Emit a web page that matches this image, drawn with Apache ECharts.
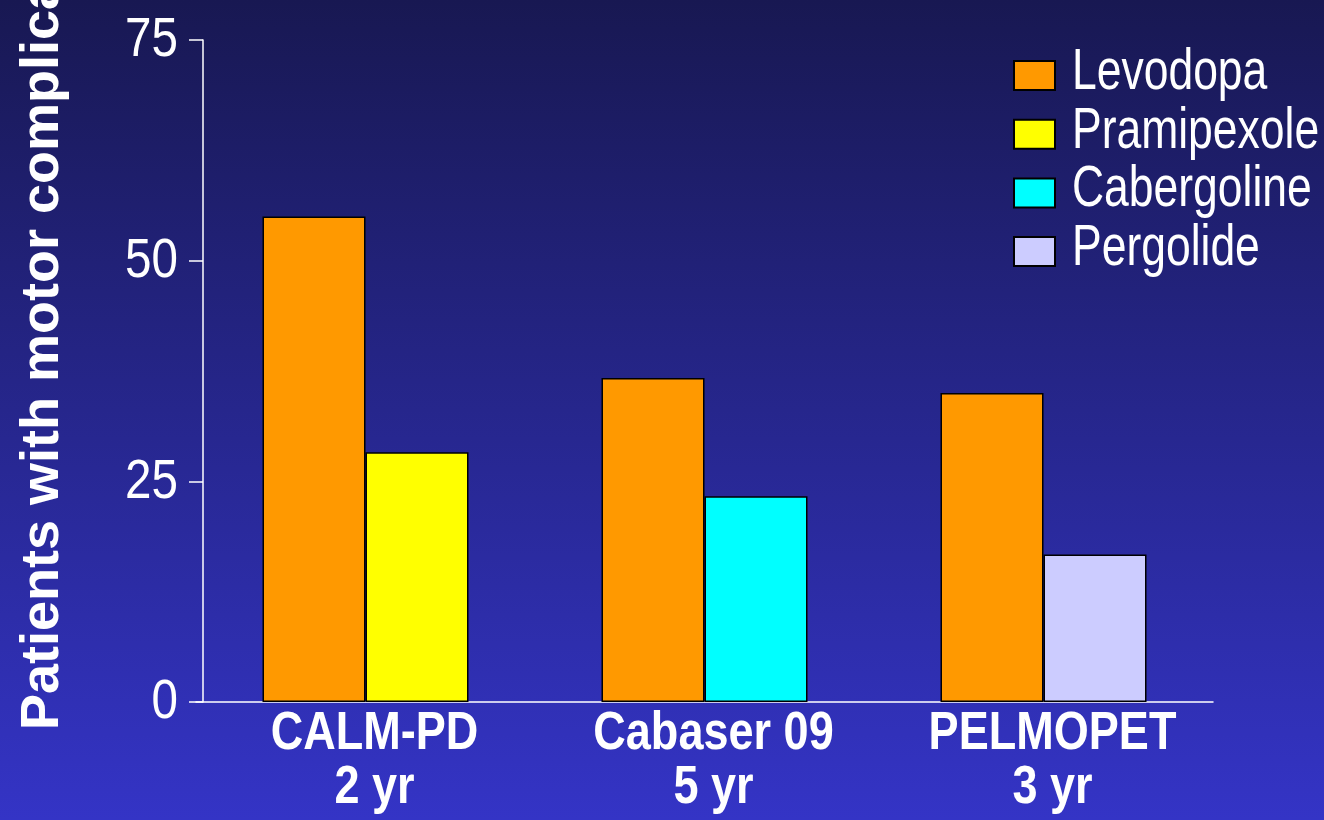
<!DOCTYPE html>
<html>
<head>
<meta charset="utf-8">
<title>Motor complications by study</title>
<script src="https://cdn.jsdelivr.net/npm/echarts@6/dist/echarts.min.js"></script>
<style>
  html, body { margin: 0; padding: 0; width: 1324px; height: 820px; overflow: hidden; }
  #chart { width: 1324px; height: 820px; }
</style>
</head>
<body>
<div id="chart"></div>
<script>
// Studies and follow-up durations (x categories)
const studies = ['CALM-PD', 'Cabaser 09', 'PELMOPET'];
const durations = ['2 yr', '5 yr', '3 yr'];

// Percent of patients with motor complications
const levodopa    = [55, 36.7, 35];
const pramipexole = [28.3, null, null];
const cabergoline = [null, 23.3, null];
const pergolide   = [null, null, 16.7];

// Treatment names, in legend order
const treatments = ['Levodopa', 'Pramipexole', 'Cabergoline', 'Pergolide'];

// Y axis ticks
const yTicks = [0, 25, 50, 75];

const font = "'Liberation Sans', Arial, sans-serif";

const categories = studies.map((s, i) => s + '\n' + durations[i]);

const chart = echarts.init(document.getElementById('chart'));

const border = { borderColor: '#000', borderWidth: 1.5 };
const barBase = { type: 'bar', barWidth: 103, barGap: '0%' };

// Legend layout
const legendLeft = 1013, legendTop = 61, legendRow = 58.6, swatchW = 41, swatchH = 29;

chart.setOption({
  backgroundColor: {
    type: 'linear', x: 0, y: 0, x2: 0, y2: 1,
    colorStops: [
      { offset: 0, color: '#181852' },
      { offset: 1, color: '#3434c6' }
    ]
  },
  animation: false,
  grid: { left: 196, right: 111, top: 40, bottom: 118 },
  legend: {
    orient: 'vertical',
    left: legendLeft,
    top: legendTop - 1,
    padding: 0,
    itemGap: 27.7,
    itemWidth: swatchW,
    itemHeight: swatchH,
    icon: 'rect',
    selectedMode: false,
    formatter: () => '',
    data: treatments
  },
  xAxis: {
    type: 'category',
    data: categories,
    axisLine: { lineStyle: { color: '#fff', width: 1.5 } },
    axisTick: { show: false },
    axisLabel: { show: false }
  },
  yAxis: {
    type: 'value',
    min: yTicks[0],
    max: yTicks[yTicks.length - 1],
    interval: yTicks[1] - yTicks[0],
    offset: -7,
    splitLine: { show: false },
    axisLine: { show: true, lineStyle: { color: '#fff', width: 1.5 } },
    axisTick: { show: true, length: 14, lineStyle: { color: '#fff', width: 1.5 } },
    axisLabel: { show: false }
  },
  series: [
    Object.assign({}, barBase, { name: treatments[0], data: levodopa, itemStyle: Object.assign({ color: '#ff9900' }, border) }),
    Object.assign({}, barBase, { name: treatments[1], stack: 'agonist', data: pramipexole, itemStyle: Object.assign({ color: '#ffff00' }, border) }),
    Object.assign({}, barBase, { name: treatments[2], stack: 'agonist', data: cabergoline, itemStyle: Object.assign({ color: '#00ffff' }, border) }),
    Object.assign({}, barBase, { name: treatments[3], stack: 'agonist', data: pergolide, itemStyle: Object.assign({ color: '#ccccff' }, border) })
  ]
});

// Narrow-set text: axis labels, legend names and the y-axis title
const texts = [];

// Category labels under each group, placed from the axis category position
categories.forEach((c, i) => {
  const x = chart.convertToPixel({ xAxisIndex: 0 }, i);
  const y0 = chart.convertToPixel({ yAxisIndex: 0 }, 0);
  texts.push({
    type: 'text', x: x + 9, y: y0 + 5.6, scaleX: 0.85,
    style: {
      text: c, fill: '#fff', font: 'bold 53px ' + font,
      lineHeight: 54, align: 'center', verticalAlign: 'top'
    }
  });
});

// Y tick labels
yTicks.forEach(v => {
  const y = chart.convertToPixel({ yAxisIndex: 0 }, v);
  texts.push({
    type: 'text', x: 178, y: y + 1, scaleX: 0.85,
    style: {
      text: String(v), fill: '#fff', font: '56px ' + font,
      align: 'right', verticalAlign: 'middle'
    }
  });
});

// Legend names beside the swatches
treatments.forEach((t, i) => {
  texts.push({
    type: 'text', x: legendLeft + swatchW + 18, y: legendTop + swatchH / 2 + i * legendRow - 2,
    scaleX: 0.78,
    style: {
      text: t, fill: '#fff', font: '57px ' + font,
      align: 'left', verticalAlign: 'middle'
    }
  });
});

// Y axis title, reading upward
texts.push({
  type: 'text', x: 43, y: 730, rotation: Math.PI / 2,
  style: {
    text: 'Patients with motor complications (%)',
    fill: '#fff', font: 'bold 54px ' + font,
    align: 'left', verticalAlign: 'middle'
  }
});

chart.setOption({ graphic: texts });
</script>
</body>
</html>
